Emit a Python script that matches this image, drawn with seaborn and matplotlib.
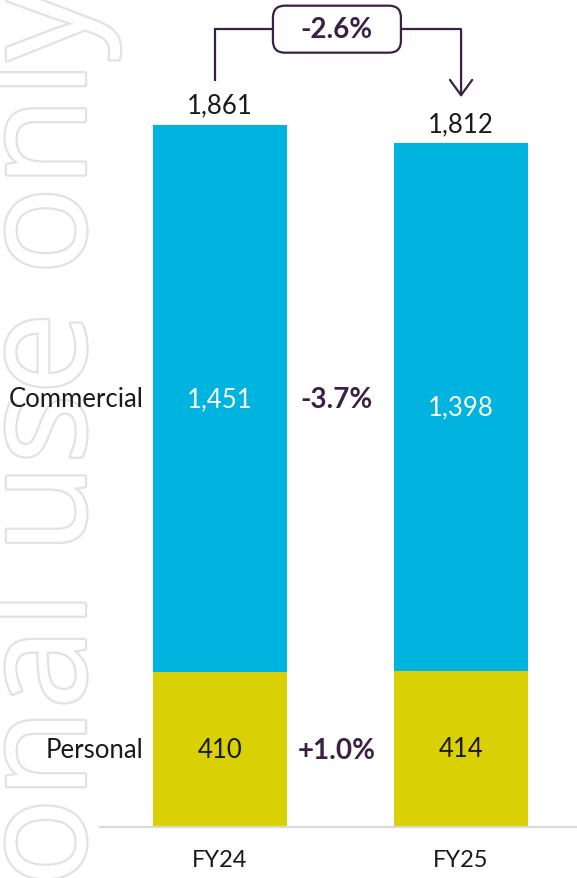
import matplotlib
matplotlib.use("Agg")
import matplotlib.pyplot as plt
import matplotlib.patheffects as pe
from matplotlib.patches import FancyBboxPatch
import pandas as pd
import seaborn as sns

# Revenue by segment
years = ["FY24", "FY25"]
personal = [410, 414]
commercial = [1451, 1398]
totals = [1861, 1812]
segment_names = ["Personal", "Commercial"]
personal_change = "+1.0%"
commercial_change = "-3.7%"
total_change = "-2.6%"
watermark = "Personal use only"

CYAN = "#00b4df"
OLIVE = "#d9d105"
PURPLE = "#3b1f45"
INK = "#1a1a1a"
RULE = "#d9d9d9"

sns.set_theme(style="white")
plt.rcParams["font.family"] = ["Lato", "DejaVu Sans"]

df = pd.DataFrame({"year": years, "Personal": personal,
                   "Commercial": commercial, "Total": totals})

fig = plt.figure(figsize=(5.77, 8.79), dpi=100, facecolor="white")
ax = fig.add_axes([100 / 577, 51 / 879, 477 / 577, 828 / 879])
ax.patch.set_visible(False)

# stacked bars: full total in cyan, personal overlaid at the bottom
bar_w = 0.556
sns.barplot(data=df, x="year", y="Total", color=CYAN, saturation=1,
            width=bar_w, errorbar=None, edgecolor="none", linewidth=0, ax=ax)
sns.barplot(data=df, x="year", y="Personal", color=OLIVE, saturation=1,
            width=bar_w, errorbar=None, edgecolor="none", linewidth=0, ax=ax)

ax.set_xlim(-0.498, 1.481)
ax.set_ylim(0, 2195)
ax.set_xlabel("")
ax.set_ylabel("")
ax.set_yticks([])
ax.tick_params(axis="x", length=0, pad=16, labelsize=17, labelcolor=INK)
for side in ["left", "right", "top"]:
    ax.spines[side].set_visible(False)
ax.spines["bottom"].set_color(RULE)
ax.spines["bottom"].set_linewidth(1.6)

fs = 18.5
for i in range(len(years)):
    ax.text(i, personal[i] / 2, f"{personal[i]:,}", ha="center", va="center",
            color=INK, fontsize=fs)
    ax.text(i, personal[i] + commercial[i] / 2, f"{commercial[i]:,}",
            ha="center", va="center", color="white", fontsize=fs)
    ax.annotate(f"{totals[i]:,}", (i, totals[i]), xytext=(0, 9),
                textcoords="offset points", ha="center", va="baseline",
                color=INK, fontsize=fs)

# segment names to the left of the first bar
mids = [personal[0] / 2, personal[0] + commercial[0] / 2]
for name, y in zip(segment_names, mids):
    ax.annotate(name, (-bar_w / 2, y), xytext=(-7, 0),
                textcoords="offset points", ha="right", va="center",
                color=INK, fontsize=fs)

# year-on-year change between the bars
mid_x = 0.485
fs_bold = 20
ax.text(mid_x, mids[0], personal_change, ha="center", va="center",
        color=PURPLE, fontsize=fs_bold, fontweight="bold")
ax.text(mid_x, mids[1], commercial_change, ha="center", va="center",
        color=PURPLE, fontsize=fs_bold, fontweight="bold")

# bracket with total change
y_top = max(totals) + 254
left_foot = totals[0] + 117
tip = totals[1] + 123
x_left, x_right = -0.02, 1.0
ax.plot([x_left, x_left, x_right], [left_foot, y_top, y_top], color=PURPLE,
        lw=1.6, solid_joinstyle="miter", solid_capstyle="butt", clip_on=False,
        zorder=2)
ax.annotate("", xy=(x_right, tip), xytext=(x_right, y_top),
            arrowprops=dict(arrowstyle="->,head_length=0.55,head_width=0.4",
                            color=PURPLE, lw=1.6, shrinkA=0, shrinkB=0,
                            mutation_scale=20), zorder=2)

p0 = ax.transData.transform((0, 0))
p1 = ax.transData.transform((1, 1))
px_x, px_y = p1[0] - p0[0], p1[1] - p0[1]
box_w, box_h = 128 / px_x, 47 / px_y
radius = 12 / px_x
box = FancyBboxPatch((mid_x - box_w / 2, y_top - box_h / 2), box_w, box_h,
                     boxstyle=f"round,pad=0,rounding_size={radius}",
                     mutation_aspect=px_x / px_y, facecolor="white",
                     edgecolor=PURPLE, lw=1.6, zorder=3, clip_on=False)
ax.add_patch(box)
ax.text(mid_x, y_top, total_change, ha="center", va="center", color=PURPLE,
        fontsize=fs_bold, fontweight="bold", zorder=4)

# outlined vertical watermark along the left edge
fig.text(85 / 577, 1 + 12 / 879, watermark, rotation=90,
         rotation_mode="anchor", ha="right", va="baseline", fontsize=105,
         family=["Open Sans", "DejaVu Sans"], color="white", zorder=-1,
         path_effects=[pe.withStroke(linewidth=3.2, foreground="#e2e2e2")])

fig.savefig("out.png", dpi=100, facecolor="white")
